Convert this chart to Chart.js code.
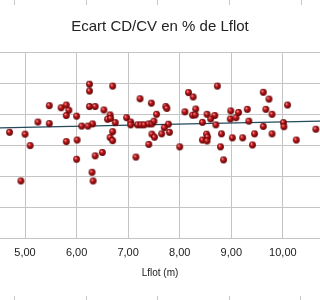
<!DOCTYPE html>
<html>
<head>
<meta charset="utf-8">
<script src="https://cdn.jsdelivr.net/npm/chart.js@4/dist/chart.umd.min.js"></script>
<style>
  html, body { margin: 0; padding: 0; background: #fff; }
  #wrap { position: relative; width: 320px; height: 300px; overflow: hidden; }
  canvas { display: block; }
  .cell { position: absolute; width: 1px; background: #c8c8c8; }
</style>
</head>
<body>
<div id="wrap">
  <canvas id="c" width="320" height="300"></canvas>
  <div class="cell" style="left:14px;top:0;height:5px"></div>
  <div class="cell" style="left:86px;top:0;height:5px"></div>
  <div class="cell" style="left:157px;top:0;height:5px"></div>
  <div class="cell" style="left:229px;top:0;height:5px"></div>
  <div class="cell" style="left:301px;top:0;height:5px"></div>
  <div class="cell" style="left:14px;top:296px;height:4px"></div>
  <div class="cell" style="left:86px;top:296px;height:4px"></div>
  <div class="cell" style="left:157px;top:296px;height:4px"></div>
  <div class="cell" style="left:229px;top:296px;height:4px"></div>
  <div class="cell" style="left:300px;top:296px;height:4px"></div>
</div>
<script>
// ---- Data ----
const titleText = "Ecart CD/CV en % de Lflot";
const xAxisTitle = "Lflot (m)";
const xTickValues = [5, 6, 7, 8, 9, 10];

const lflot = [
  4.70, 5.00, 5.10, 4.92, 5.25, 5.47, 5.47, 5.70, 5.80, 5.85,
  5.80, 6.00, 5.80, 6.01, 6.00, 6.25, 6.25, 6.70, 6.25, 6.36,
  6.53, 6.65, 6.60, 6.66, 6.75, 6.31, 6.10, 6.22, 6.70, 6.65,
  6.70, 6.36, 6.50, 6.30, 6.32, 6.97, 7.05, 7.05, 7.18, 7.25,
  7.31, 7.40, 7.46, 7.50, 7.55, 7.23, 7.45, 7.46, 7.51, 7.40,
  7.15, 7.73, 7.75, 8.17, 8.26, 8.73, 8.10, 8.31, 8.25, 8.30,
  8.53, 8.68, 8.60, 8.44, 8.99, 9.14, 8.98, 9.09, 7.78, 7.70,
  7.65, 7.80, 8.70, 8.52, 8.54, 8.44, 8.53, 8.81, 9.02, 8.79,
  8.00, 8.85, 9.62, 9.73, 10.09, 9.31, 9.67, 9.79, 9.34, 9.62,
  10.01, 10.02, 10.64, 9.22, 9.45, 9.79, 9.41, 10.26
];
const ecart = [
  0.41, 0.35, -0.02, -1.16, 0.74, 0.69, 1.27, 1.20, 1.29, 1.12,
  0.95, 0.93, 0.11, 0.16, -0.46, 1.96, 1.74, 1.90, 1.24, 1.24,
  1.13, 0.97, 0.83, 0.86, 0.72, 0.68, 0.61, 0.61, 0.43, 0.24,
  0.14, -0.35, -0.24, -0.88, -1.16, 0.88, 0.74, 0.65, 0.65, 0.65,
  0.65, 0.68, 0.68, 0.77, 0.99, 1.49, 1.35, 0.35, 0.25, 0.02,
  -0.39, 1.24, 1.18, 1.69, 1.55, 1.90, 1.07, 1.16, 0.96, 0.97,
  0.99, 0.95, 0.84, 0.73, 1.10, 1.05, 0.84, 0.88, 0.67, 0.56,
  0.36, 0.41, 0.65, 0.35, 0.26, 0.16, 0.13, 0.36, 0.23, -0.06,
  -0.06, -0.48, 1.70, 1.48, 1.29, 1.15, 1.15, 0.99, 0.77, 0.60,
  0.72, 0.59, 0.51, 0.23, 0.36, 0.36, 0.00, 0.16
];
// linear trend line end points (x, y)
const trendX = [4.515, 10.72];
const trendY = [0.55, 0.77];

// ---- Styles ----
function sphere(r) {
  const s = Math.ceil(r * 2) + 2;
  const cv = document.createElement('canvas');
  cv.width = s; cv.height = s;
  const g = cv.getContext('2d');
  const c = s / 2;
  const grad = g.createRadialGradient(c - r * 0.35, c - r * 0.4, r * 0.1, c, c, r);
  grad.addColorStop(0, '#ff9a9a');
  grad.addColorStop(0.35, '#c41a1e');
  grad.addColorStop(1, '#5a0000');
  g.fillStyle = grad;
  g.beginPath(); g.arc(c, c, r, 0, Math.PI * 2); g.fill();
  return cv;
}
const ball = sphere(3.4);

const pts = lflot.map((x, i) => ({ x: x, y: ecart[i] }));
const trend = trendX.map((x, i) => ({ x: x, y: trendY[i] }));

new Chart(document.getElementById('c'), {
  type: 'scatter',
  data: {
    datasets: [
      {
        type: 'line',
        data: trend,
        borderColor: '#244a5e',
        borderWidth: 1.2,
        pointRadius: 0,
        fill: false,
        order: 2
      },
      {
        data: pts,
        pointStyle: ball,
        pointRadius: 3.4,
        order: 1
      }
    ]
  },
  options: {
    responsive: false,
    animation: false,
    layout: { autoPadding: false, padding: { left: 0, right: 0, top: 0, bottom: 21 } },
    plugins: {
      legend: { display: false },
      tooltip: { enabled: false },
      title: {
        display: true,
        text: titleText,
        color: '#222',
        font: { family: 'Liberation Sans', size: 15, weight: 'normal' },
        padding: { top: 18, bottom: 16 }
      }
    },
    scales: {
      x: {
        type: 'linear',
        min: 4.515,
        max: 10.72,
        afterBuildTicks: (s) => { s.ticks = xTickValues.map(v => ({ value: v })); },
        afterFit: (s) => { s.height = 41; s.paddingLeft = 0; s.paddingRight = 0; },
        grid: { color: '#c4c4c4', lineWidth: 1, drawTicks: false },
        border: { display: false },
        ticks: {
          color: '#1a1a1a',
          padding: 8,
          font: { family: 'Liberation Sans', size: 11 },
          callback: (v) => Number(v).toFixed(2).replace('.', ',')
        },
        title: {
          display: true,
          text: xAxisTitle,
          color: '#1a1a1a',
          font: { family: 'Liberation Sans', size: 10 },
          padding: { top: 8, bottom: 0 }
        }
      },
      y: {
        type: 'linear',
        min: -3,
        max: 3,
        afterFit: (s) => { s.width = 0; },
        ticks: { display: false, stepSize: 1 },
        grid: { color: '#c4c4c4', lineWidth: 1, drawTicks: false },
        border: { display: false }
      }
    }
  }
});
</script>
</body>
</html>
